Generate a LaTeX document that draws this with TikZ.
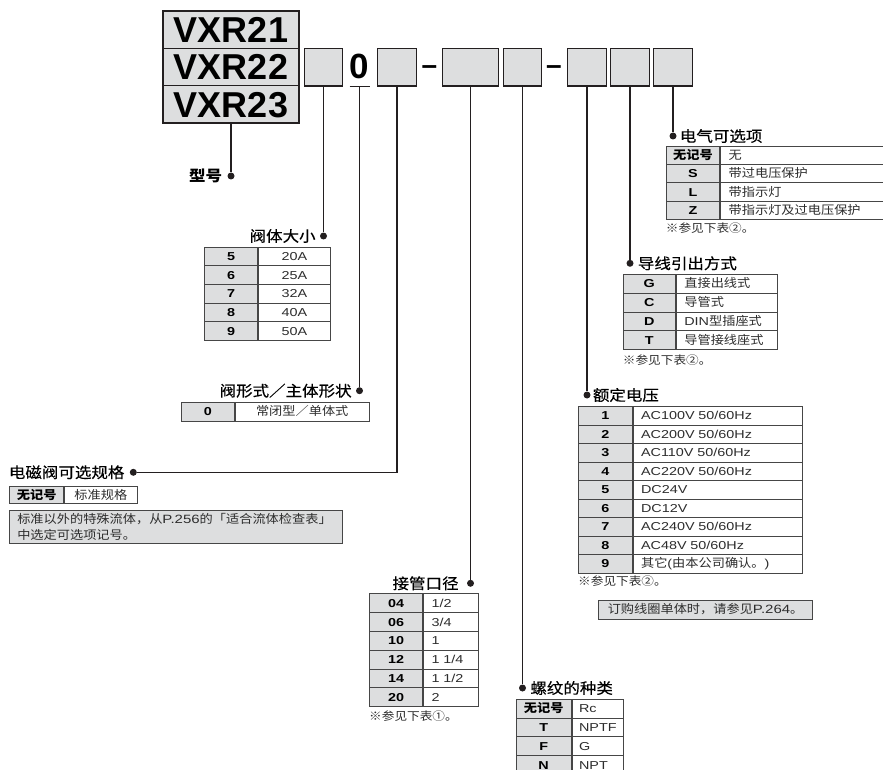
\documentclass[tikz,border=0pt]{standalone}
\usepackage{fontspec}
\setmainfont{Noto Sans CJK SC}[FakeStretch=1.1]
\newfontfamily\zhhead{Noto Sans CJK SC}[FakeStretch=1.1, FakeBold=0.4]
\newfontfamily\hv{Liberation Sans}[FakeStretch=1.25]
\newfontfamily\hvbig{Liberation Sans}
\usetikzlibrary{positioning}

\definecolor{boxgray}{RGB}{221,222,223}
\definecolor{inkline}{RGB}{35,31,32}
\definecolor{tblline}{RGB}{70,70,70}
\definecolor{txtgray}{RGB}{45,45,45}

\newcommand\zh[1]{{\rmfamily\fontsize{12}{12}\selectfont #1}}

\tikzset{
  modelbox/.style={draw=inkline, line width=1.4pt, fill=boxgray, minimum width=136.3pt, minimum height=37.3pt,
    inner sep=0pt, text height=26pt, text depth=0pt, font=\hvbig\bfseries\fontsize{36}{36}\selectfont},
  codebox/.style={draw=inkline, line width=1.4pt, fill=boxgray, minimum width=38.5pt, minimum height=37.5pt, inner sep=0pt},
  zero/.style={inner sep=0pt, text height=25pt, text depth=0pt, font=\hvbig\bfseries\fontsize{35}{35}\selectfont},
  dashtxt/.style={inner sep=0pt, anchor=base, font=\hvbig\bfseries\fontsize{28}{28}\selectfont},
  pin/.style={circle, fill=inkline, inner sep=0pt, minimum size=7pt},
  conn/.style={draw=inkline, line width=1.3pt},
  headtxt/.style={inner sep=0pt, font=\zhhead\fontsize{15}{15}\selectfont},
  keycell/.style={draw=tblline, line width=0.9pt, fill=boxgray, anchor=north west, inner sep=0pt,
    text height=8.2pt, text depth=0pt, font=\hv\bfseries\fontsize{11.5}{12}\selectfont},
  valcell/.style={draw=tblline, line width=0.9pt, fill=white, anchor=north west, inner xsep=8pt, inner ysep=0pt,
    text height=8.2pt, text depth=0pt, text=txtgray, font=\hv\fontsize{11.5}{12}\selectfont},
  note/.style={inner sep=0pt, anchor=north west, text=txtgray, font=\fontsize{11.5}{12}\selectfont},
  notebox/.style={draw=tblline, line width=0.9pt, fill=boxgray, anchor=north west, text=txtgray,
    font=\fontsize{12}{16.3}\selectfont}
}

\begin{document}
\begin{tikzpicture}[x=1pt,y=-1pt]
\useasboundingbox (0,0) rectangle (883,770);
\clip (0,0) rectangle (883,770);

% model code
\foreach \t [count=\i] in {VXR21,VXR22,VXR23}
  \node[modelbox] (m\i) at (231,{29.7+37.3*(\i-1)}) {\t};

\node[codebox] (b1) at (323.5,67.2) {};
\node[zero] (zero) at (359.5,65.8) {0};
\coordinate (zu) at (359.5,86.7);
\node[codebox] (b2) at (397,67.2) {};
\node[dashtxt] (h1) at (429.5,74.4) {–};
\node[codebox, minimum width=56pt] (b3) at (470.5,67.2) {};
\node[codebox] (b4) at (522.5,67.2) {};
\node[dashtxt] (h2) at (554,74.4) {–};
\node[codebox] (b5) at (587,67.2) {};
\node[codebox] (b6) at (630,67.2) {};
\node[codebox] (b7) at (673,67.2) {};

% pins
\node[pin] (dmod) at (231,176) {};
\node[pin] (dsz) at (323.5,236) {};
\node[pin] (dform) at (359.5,390.7) {};
\node[pin] (dopt) at (133.3,472.3) {};
\node[pin] (dport) at (470.5,583.3) {};
\node[pin] (dthr) at (522.5,688) {};
\node[pin] (dvolt) at (587,395) {};
\node[pin] (dwire) at (630,263.3) {};
\node[pin] (delec) at (673,136) {};

% connectors
\draw[conn] (m3.south) -- (dmod);
\draw[conn] (b1.south) -- (dsz);
\draw[conn] ([xshift=-10pt]zu) -- ([xshift=10pt]zu);
\draw[conn] (zu) -- (dform);
\draw[conn] (b2.south) |- (dopt);
\draw[conn] (b3.south) -- (dport);
\draw[conn] (b4.south) -- (dthr);
\draw[conn] (b5.south) -- (dvolt);
\draw[conn] (b6.south) -- (dwire);
\draw[conn] (b7.south) -- (delec);

% headings
\node[headtxt, font=\rmfamily\bfseries\fontsize{15}{15}\selectfont, left=5pt of dmod] {型号};
\node[headtxt, left=4pt of dsz] {阀体大小};
\node[headtxt, left=4pt of dform] {阀形式／主体形状};
\node[headtxt, left=5pt of dopt] {电磁阀可选规格};
\node[headtxt, left=8pt of dport] {接管口径};
\node[headtxt, right=4pt of dthr] {螺纹的种类};
\node[headtxt, right=2pt of dvolt] {额定电压};
\node[headtxt, right=4pt of dwire] {导线引出方式};
\node[headtxt, right=3pt of delec] {电气可选项};

% body size
\foreach \k/\v [count=\i] in {5/20A,6/25A,7/32A,8/40A,9/50A}{
  \node[keycell, minimum width=53.3pt, minimum height=18.66pt] (sk\i) at (204,{246.7+18.66*(\i-1)}) {\k};
  \node[valcell, text width=55.7pt, align=center, minimum height=18.66pt] at (sk\i.north east) {\v};
}

% valve type
\node[keycell, minimum width=53pt, minimum height=19.3pt] (fk1) at (181,401.7) {0};
\node[valcell, text width=117.7pt, align=center, minimum height=19.3pt] at (fk1.north east) {\zh{常闭型／单体式}};

% solenoid valve option
\node[keycell, minimum width=54pt, minimum height=17.3pt] (ok1) at (9.3,486) {\zh{无记号}};
\node[valcell, text width=56.4pt, align=center, minimum height=17.3pt] at (ok1.north east) {\zh{标准规格}};
\node[notebox, inner xsep=7.5pt, inner ysep=3pt, text width=317.4pt, align=left] (onote) at (9.3,510)
  {标准以外的特殊流体，从{\hv P.256}的「适合流体检查表」\\中选定可选项记号。};

% port size
\foreach \k/\v [count=\i] in {04/{1/2},06/{3/4},10/1,12/{1 1/4},14/{1 1/2},20/2}{
  \node[keycell, minimum width=53.3pt, minimum height=18.8pt] (pk\i) at (369,{593.3+18.8*(\i-1)}) {\k};
  \node[valcell, text width=38.4pt, align=left, minimum height=18.8pt] at (pk\i.north east) {\v};
}
\node[note, below right=4pt and 0pt of pk6.south west] {※参见下表①。};

% thread type
\foreach \k/\v [count=\i] in {{\zh{无记号}}/Rc,T/NPTF,F/G,N/NPT}{
  \node[keycell, minimum width=55pt, minimum height=18.7pt] (tk\i) at (515.7,{699+18.7*(\i-1)}) {\k};
  \node[valcell, inner xsep=7pt, text width=37.6pt, align=left, minimum height=18.7pt] at (tk\i.north east) {\v};
}

% rated voltage
\foreach \k/\v [count=\i] in {1/{AC100V 50/60Hz},2/{AC200V 50/60Hz},3/{AC110V 50/60Hz},4/{AC220V 50/60Hz},
    5/DC24V,6/DC12V,7/{AC240V 50/60Hz},8/{AC48V 50/60Hz},9/{\zh{其它}(\zh{由本公司确认。})}}{
  \node[keycell, minimum width=53.7pt, minimum height=18.5pt] (vk\i) at (578,{406+18.5*(\i-1)}) {\k};
  \node[valcell, text width=153pt, align=left, minimum height=18.5pt] at (vk\i.north east) {\v};
}
\node[note, below right=2.5pt and 0pt of vk9.south west] (vnote) {※参见下表②。};
\node[notebox, inner xsep=9pt, inner ysep=0pt, minimum height=19.3pt, text height=9pt, text depth=1.5pt] (coil) at (598.3,600)
  {订购线圈单体时，请参见{\hv P.264}。};

% lead wire entry
\foreach \k/\v [count=\i] in {G/\zh{直接出线式},C/\zh{导管式},D/{DIN\zh{型插座式}},T/\zh{导管接线座式}}{
  \node[keycell, minimum width=52.3pt, minimum height=18.8pt] (wk\i) at (622.7,{274+18.8*(\i-1)}) {\k};
  \node[valcell, text width=85pt, align=left, minimum height=18.8pt] at (wk\i.north east) {\v};
}
\node[note, below right=4pt and 0pt of wk4.south west] {※参见下表②。};

% electrical option
\foreach \k/\v [count=\i] in {{\zh{无记号}}/\zh{无},S/\zh{带过电压保护},L/\zh{带指示灯},Z/\zh{带指示灯及过电压保护}}{
  \node[keycell, minimum width=53.6pt, minimum height=18.25pt] (ek\i) at (665.7,{146+18.25*(\i-1)}) {\k};
  \node[valcell, text width=164pt, align=left, minimum height=18.25pt] at (ek\i.north east) {\v};
}
\node[note, below right=2.5pt and 0pt of ek4.south west] {※参见下表②。};
\end{tikzpicture}
\end{document}
